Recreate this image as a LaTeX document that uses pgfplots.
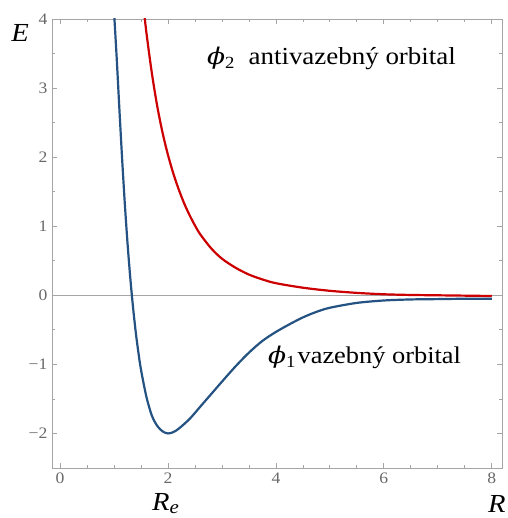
\documentclass[border=0pt]{standalone}
\usepackage{pgfplots}
\pgfplotsset{compat=1.18}
\usepackage{fontspec}
\setmainfont{Liberation Serif}[FakeStretch=1.1]
\newfontfamily\phifont{DejaVu Serif}[FakeStretch=1.15]

\definecolor{bondblue}{RGB}{36,82,130}
\definecolor{antired}{RGB}{204,0,0}
\definecolor{framegray}{RGB}{165,165,165}
\definecolor{labelgray}{RGB}{105,105,105}

% bonding orbital energy
\pgfplotstableread{
R E
1.00 4.10
1.05 3.42
1.10 2.68
1.15 1.97
1.20 1.32
1.25 0.75
1.30 0.26
1.35 -0.16
1.40 -0.52
1.45 -0.82
1.50 -1.08
1.60 -1.47
1.70 -1.74
1.80 -1.89
1.90 -1.97
2.00 -2.00
2.10 -1.98
2.20 -1.93
2.40 -1.79
2.60 -1.61
2.80 -1.43
3.00 -1.25
3.25 -1.03
3.50 -0.83
3.75 -0.66
4.00 -0.53
4.25 -0.42
4.50 -0.32
4.75 -0.24
5.00 -0.18
5.50 -0.11
6.00 -0.075
6.50 -0.06
7.00 -0.055
7.50 -0.05
8.00 -0.05
}\bonding

% antibonding orbital energy
\pgfplotstableread{
R E
1.55 4.15
1.60 3.80
1.70 3.22
1.80 2.74
1.90 2.35
2.00 2.03
2.10 1.76
2.20 1.53
2.30 1.33
2.40 1.16
2.50 1.01
2.60 0.88
2.80 0.68
3.00 0.53
3.25 0.40
3.50 0.30
3.75 0.23
4.00 0.175
4.50 0.11
5.00 0.065
5.50 0.035
6.00 0.015
6.50 0.005
7.00 0.0
7.50 -0.005
8.00 -0.01
}\antibonding

\newcommand\orb[1]{{\fontsize{23}{23}\phifont\itshape ϕ}\raisebox{-4pt}{\fontsize{17}{17}\selectfont #1}}

\begin{document}
\begin{tikzpicture}
\begin{axis}[
  at={(0pt,0pt)}, anchor=south west,
  scale only axis, width=450pt, height=449pt,
  xmin=-0.15, xmax=8.19, ymin=-2.5, ymax=4,
  axis line style={framegray, line width=0.9pt},
  xtick={0,2,4,6,8},
  ytick={-2,-1,0,1,2,3,4},
  yticklabels={−2,−1,0,1,2,3,4},
  xticklabels={0,2,4,6,8},
  minor x tick num=3,
  minor y tick num=1,
  tick align=inside,
  major tick length=5pt,
  minor tick length=3pt,
  every tick/.style={framegray, line width=0.8pt},
  tick label style={font=\fontsize{16}{16}\selectfont, text=labelgray},
  xticklabel style={yshift=-1pt},
  yticklabel style={xshift=-1pt},
]
\addplot[framegray, line width=0.9pt] coordinates {(-0.15,0) (8.19,0)};
\addplot[antired, line width=2.2pt, smooth] table[x=R, y=E] {\antibonding};
\addplot[bondblue, line width=2.2pt, smooth] table[x=R, y=E] {\bonding};
\end{axis}

% annotations
\node[anchor=base west, inner sep=0pt] at (155pt,403pt)
  {\orb{2}\hspace{14pt}\fontsize{24.5}{24.5}\selectfont antivazebný orbital};
\node[anchor=base west, inner sep=0pt] at (216pt,104pt)
  {\orb{1}\hspace{2pt}\fontsize{24}{24}\selectfont vazebný orbital};
\node[inner sep=0pt] at (-32pt,435pt) {\fontsize{26}{26}\selectfont\textit{E}};
\node[anchor=base west, inner sep=0pt] at (436pt,-44pt) {\fontsize{26}{26}\selectfont\textit{R}};
\node[anchor=base west, inner sep=0pt] at (100pt,-42pt)
  {\fontsize{26}{26}\selectfont\textit{R}\raisebox{-3pt}{\fontsize{19}{19}\selectfont\textit{e}}};

\pgfresetboundingbox
\path[use as bounding box] (-52pt,-50pt) rectangle (455pt,468pt);
\end{tikzpicture}
\end{document}
